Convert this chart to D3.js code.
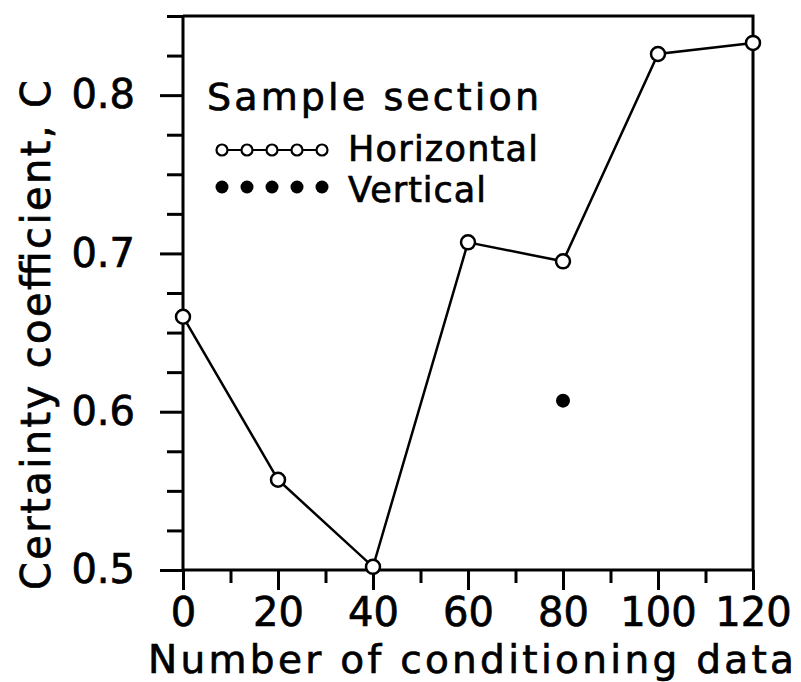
<!DOCTYPE html>
<html>
<head>
<meta charset="utf-8">
<script src="https://cdn.jsdelivr.net/npm/d3@7"></script>
<style>
  body { margin: 0; background: #fff; }
  svg text { font-family: "DejaVu Sans", sans-serif; fill: #000; stroke: #000; stroke-width: 0.7px; }
</style>
</head>
<body>
<script>
// data
var conditioningData = [0, 20, 40, 60, 80, 100, 120];
var horizontalC = [0.66, 0.557, 0.502, 0.707, 0.695, 0.826, 0.833];
var verticalX = [80];
var verticalC = [0.607];

var xTicks = [0, 20, 40, 60, 80, 100, 120];
var xMinorTicks = [10, 30, 50, 70, 90, 110];
var yTicks = [0.5, 0.6, 0.7, 0.8];
var yMinorTicks = [0.525, 0.55, 0.575, 0.625, 0.65, 0.675, 0.725, 0.75, 0.775, 0.825, 0.85];

var legendTitle = "Sample section";
var legendNames = ["Horizontal", "Vertical"];

var svgWidth = 801, svgHeight = 682;
var margin = { top: 16, right: 48, bottom: 112, left: 183 };
var width = svgWidth - margin.left - margin.right;
var height = svgHeight - margin.top - margin.bottom;

var svg = d3.select("body").append("svg")
    .attr("width", svgWidth)
    .attr("height", svgHeight);

var chartGroup = svg.append("g").attr("transform", `translate(${margin.left}, ${margin.top})`);

var xScale = d3.scaleLinear().domain([0, 120]).range([0, width]);
var yScale = d3.scaleLinear().domain([0.5, 0.85]).range([height, 0]);

// minor ticks
chartGroup.append("g")
    .attr("class", "axis")
    .attr("transform", `translate(0, ${height})`)
    .call(d3.axisBottom(xScale).tickValues(xMinorTicks).tickSize(13).tickFormat(""));
chartGroup.append("g")
    .attr("class", "axis")
    .call(d3.axisLeft(yScale).tickValues(yMinorTicks).tickSize(16).tickFormat(""));

// major ticks + labels
chartGroup.append("g")
    .attr("class", "axis")
    .attr("transform", `translate(0, ${height})`)
    .call(d3.axisBottom(xScale).tickValues(xTicks).tickSize(20).tickPadding(8).tickFormat(d3.format("d")));
chartGroup.append("g")
    .attr("class", "axis")
    .call(d3.axisLeft(yScale).tickValues(yTicks).tickSize(23).tickPadding(25).tickFormat(d3.format(".1f")));

chartGroup.selectAll(".axis path.domain").remove();
chartGroup.selectAll(".axis line").attr("stroke", "#000").attr("stroke-width", 3);
chartGroup.selectAll(".axis text")
    .attr("fill", "#000")
    .style("font-size", "40px");

// frame
var frame = [[0, 0.85], [0, 0.5], [120, 0.5], [120, 0.85], [0, 0.85]];
chartGroup.append("path")
    .datum(frame)
    .attr("fill", "none")
    .attr("stroke", "#000")
    .attr("stroke-width", 3)
    .attr("d", d3.line().x(d => xScale(d[0])).y(d => yScale(d[1])));

// horizontal series
var series = conditioningData.map((d, i) => ({ x: d, y: horizontalC[i] }));
chartGroup.append("path")
    .datum(series)
    .attr("fill", "none")
    .attr("stroke", "#000")
    .attr("stroke-width", 2.5)
    .attr("d", d3.line().x(d => xScale(d.x)).y(d => yScale(d.y)));

chartGroup.selectAll(".hpt")
    .data(series)
    .enter()
    .append("circle")
    .attr("class", "hpt")
    .attr("cx", d => xScale(d.x))
    .attr("cy", d => yScale(d.y))
    .attr("r", 7)
    .attr("fill", "#fff")
    .attr("stroke", "#000")
    .attr("stroke-width", 2.5);

// vertical series
chartGroup.selectAll(".vpt")
    .data(verticalX.map((d, i) => ({ x: d, y: verticalC[i] })))
    .enter()
    .append("circle")
    .attr("class", "vpt")
    .attr("cx", d => xScale(d.x))
    .attr("cy", d => yScale(d.y))
    .attr("r", 7)
    .attr("fill", "#000");

// legend
svg.append("text")
    .attr("x", 207)
    .attr("y", 110)
    .attr("textLength", 332)
    .attr("lengthAdjust", "spacing")
    .style("font-size", "38px")
    .text(legendTitle);

var markerX = [222, 247, 272, 297, 322];
svg.append("line")
    .attr("x1", markerX[0]).attr("x2", markerX[4])
    .attr("y1", 150).attr("y2", 150)
    .attr("stroke", "#000").attr("stroke-width", 2);
svg.selectAll(".lh")
    .data(markerX)
    .enter()
    .append("circle")
    .attr("cx", d => d)
    .attr("cy", 150)
    .attr("r", 5.5)
    .attr("fill", "#fff")
    .attr("stroke", "#000")
    .attr("stroke-width", 2.2);
svg.selectAll(".lv")
    .data(markerX)
    .enter()
    .append("circle")
    .attr("cx", d => d)
    .attr("cy", 187)
    .attr("r", 6.5)
    .attr("fill", "#000");

svg.append("text")
    .attr("x", 348).attr("y", 161)
    .attr("textLength", 190)
    .attr("lengthAdjust", "spacing")
    .style("font-size", "35px")
    .text(legendNames[0]);
svg.append("text")
    .attr("x", 348).attr("y", 202)
    .attr("textLength", 138)
    .attr("lengthAdjust", "spacing")
    .style("font-size", "35px")
    .text(legendNames[1]);

// axis titles
svg.append("text")
    .attr("transform", "translate(50, 335) rotate(-90)")
    .attr("text-anchor", "middle")
    .attr("textLength", 510)
    .attr("lengthAdjust", "spacing")
    .style("font-size", "40px")
    .text("Certainty coefficient, C");

svg.append("text")
    .attr("x", 148)
    .attr("y", 673)
    .attr("textLength", 646)
    .attr("lengthAdjust", "spacing")
    .style("font-size", "39px")
    .text("Number of conditioning data");
</script>
</body>
</html>
